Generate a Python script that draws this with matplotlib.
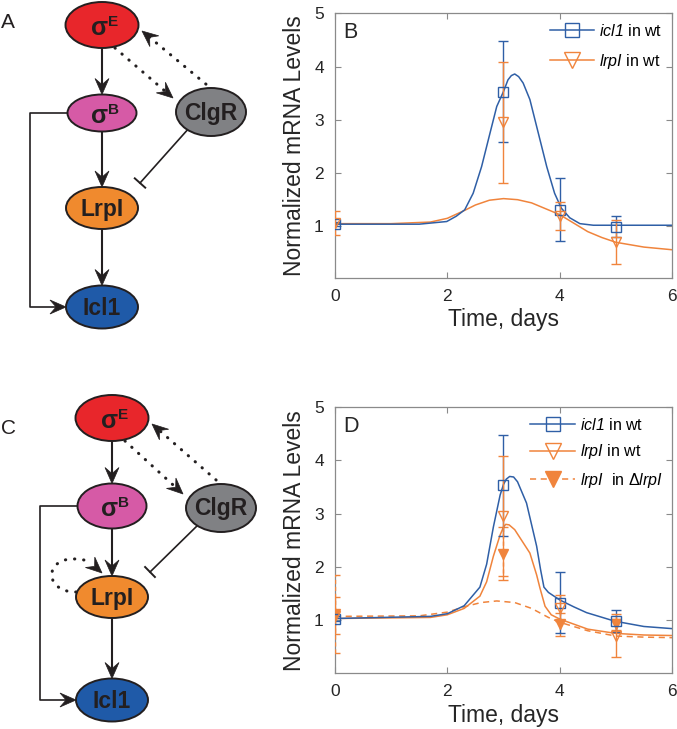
import numpy as np
import matplotlib
matplotlib.use('Agg')
import matplotlib.pyplot as plt
from matplotlib.patches import Ellipse, Polygon, PathPatch
from matplotlib.path import Path
from matplotlib.lines import Line2D

plt.rcParams['font.family'] = ['Liberation Sans', 'DejaVu Sans']
plt.rcParams['mathtext.fontset'] = 'custom'
plt.rcParams['mathtext.rm'] = 'Liberation Sans'
plt.rcParams['mathtext.sf'] = 'Liberation Sans:italic'

BLUE = '#2f5fa6'
ORANGE = '#f0843c'
INK = '#231f20'

# measured days
days = [0, 3, 4, 5]

# panel B data points
b_icl1 = [1.04, 3.53, 1.31, 0.99]
b_icl1_err = [0.04, 0.95, 0.59, 0.20]
b_lrpi = [1.06, 2.95, 1.20, 0.71]
b_lrpi_err = [0.23, 1.13, 0.26, 0.41]

# panel B model curves
b_icl1_fit_t = [0, 1.5, 1.99, 2.16, 2.31, 2.46, 2.61, 2.76, 2.88, 3.0, 3.08, 3.14, 3.2,
                3.27, 3.35, 3.47, 3.62, 3.77, 3.91, 4.03, 4.18, 4.36, 4.6, 6.0]
b_icl1_fit = [1.04, 1.04, 1.09, 1.19, 1.31, 1.62, 2.12, 2.75, 3.25, 3.53, 3.75, 3.83, 3.86,
              3.81, 3.69, 3.38, 2.75, 2.12, 1.62, 1.34, 1.16, 1.05, 1.02, 1.02]
b_lrpi_fit_t = [0, 1.0, 1.7, 2.0, 2.31, 2.5, 2.75, 3.0, 3.25, 3.5, 3.75, 4.0,
                4.25, 4.5, 4.75, 5.0, 5.5, 6.0]
b_lrpi_fit = [1.05, 1.05, 1.08, 1.15, 1.30, 1.40, 1.49, 1.52, 1.50, 1.44, 1.33, 1.22,
              1.06, 0.90, 0.79, 0.70, 0.61, 0.56]

# panel D data points
d_icl1 = [1.03, 3.53, 1.33, 0.98]
d_icl1_err = [0.05, 0.95, 0.57, 0.21]
d_lrpi_wt = [1.08, 2.95, 1.23, 0.71]
d_lrpi_wt_err = [0.35, 1.13, 0.25, 0.40]
d_lrpi_del = [1.12, 2.25, 0.92, 0.92]
d_lrpi_del_err = [0.73, 0.50, 0.22, 0.10]

# panel D model curves
d_icl1_fit_t = [0, 1.7, 2.0, 2.3, 2.58, 2.7, 2.82, 2.94, 3.0, 3.05, 3.11, 3.18, 3.25,
                3.41, 3.59, 3.66, 3.72, 3.8, 4.0, 4.25, 4.48, 4.98, 5.5, 6.0]
d_icl1_fit = [1.03, 1.07, 1.12, 1.27, 1.62, 2.05, 2.75, 3.35, 3.55, 3.65, 3.70, 3.69, 3.60,
              3.20, 2.39, 1.95, 1.62, 1.52, 1.38, 1.25, 1.14, 0.98, 0.88, 0.84]
d_lrpi_fit_t = [0, 1.7, 2.0, 2.3, 2.58, 2.7, 2.82, 2.94, 3.0, 3.04, 3.1, 3.2, 3.47, 3.59,
                3.65, 3.74, 3.85, 4.0, 4.5, 5.0, 5.5, 6.0]
d_lrpi_fit = [1.03, 1.05, 1.10, 1.22, 1.45, 1.72, 2.20, 2.60, 2.75, 2.80, 2.79, 2.70, 2.26,
              1.85, 1.60, 1.26, 1.10, 1.02, 0.83, 0.75, 0.72, 0.71]
d_del_fit_t = [0, 1.5, 2.0, 2.3, 2.6, 2.88, 3.2, 3.5, 3.8, 4.0, 4.5, 5.0, 5.5, 6.0]
d_del_fit = [1.07, 1.08, 1.15, 1.25, 1.33, 1.36, 1.33, 1.22, 1.05, 0.96, 0.80, 0.70,
             0.68, 0.67]

fig = plt.figure(figsize=(6.77, 7.29), dpi=100)

# ---------- network diagrams (pixel coordinates) ----------
bg = fig.add_axes([0, 0, 1, 1])
bg.set_xlim(0, 677)
bg.set_ylim(729, 0)
bg.axis('off')


def node(cx, cy, w, h, fc, label=None, sup=None):
    bg.add_patch(Ellipse((cx, cy), w, h, fc=fc, ec=INK, lw=1.4, zorder=3))
    if sup:
        bg.text(cx + 6, cy + 3, 'σ', ha='right', va='center', fontsize=18,
                fontweight='bold', color=INK, zorder=4)
        bg.text(cx + 6, cy - 3, sup, ha='left', va='center', fontsize=11,
                fontweight='bold', color=INK, zorder=4)
    else:
        bg.text(cx, cy + 1, label, ha='center', va='center', fontsize=16.5,
                fontweight='bold', color=INK, zorder=4)


def head(tip, d, L=16, W=7):
    d = np.asarray(d, float)
    d = d / np.hypot(*d)
    n = np.array([-d[1], d[0]])
    tip = np.asarray(tip, float)
    back = tip - L * d
    pts = [tip, back + W * n, tip - 0.62 * L * d, back - W * n]
    bg.add_patch(Polygon(pts, closed=True, fc=INK, ec=INK, lw=0.5, zorder=5))


def arrow(x0, y0, x1, y1, dotted=False, lw=1.5):
    d = np.array([x1 - x0, y1 - y0], float)
    d = d / np.hypot(*d)
    ex, ey = np.array([x1, y1]) - 9 * d
    if dotted:
        bg.plot([x0, ex], [y0, ey], color=INK, lw=2.2, ls=(0, (0.1, 2.9)),
                dash_capstyle='round', zorder=2)
    else:
        bg.plot([x0, ex], [y0, ey], color=INK, lw=lw, zorder=2)
    head((x1, y1), d)


def inhibit(x0, y0, x1, y1):
    d = np.array([x1 - x0, y1 - y0], float)
    d = d / np.hypot(*d)
    n = np.array([-d[1], d[0]])
    bg.plot([x0, x1], [y0, y1], color=INK, lw=1.2, zorder=2)
    bg.plot([x1 - 7 * n[0], x1 + 7 * n[0]], [y1 - 7 * n[1], y1 + 7 * n[1]],
            color=INK, lw=1.4, zorder=2)


def network(x, y, yB, yL, yI, yC, hB, loop=False):
    # x: column centre, y: sigma E centre
    node(x, y, 73, 46, '#e8262b', sup='E')
    node(x, yB, 69, hB, '#d65aa6', sup='B')
    node(x + 109, yC, 70, 48, '#808184', label='ClgR')
    node(x, yL, 72, 42, '#f08a2e', label='LrpI')
    node(x, yI, 72, 43, '#1f5aa8', label='Icl1')
    arrow(x, y + 23, x, yB - hB / 2)
    arrow(x, yB + hB / 2, x, yL - 21)
    arrow(x, yL + 21, x, yI - 21.5)
    bg.plot([x - 34, x - 72, x - 72, x - 45], [yB, yB, yI, yI], color=INK, lw=1.2, zorder=2)
    head((x - 36, yI), (1, 0))
    arrow(x + 13, y + 23, x + 71, yC - 14, dotted=True)
    arrow(x + 111, yC - 22, x + 40, y + 6, dotted=True)
    inhibit(x + 88, yC + 15, x + 38, yL - 25)
    if loop:
        p = Path([(x - 36, yL - 5), (x - 72, yL - 5), (x - 68, yL - 48), (x - 24, yL - 36)],
                 [Path.MOVETO, Path.CURVE4, Path.CURVE4, Path.CURVE4])
        bg.add_patch(PathPatch(p, fc='none', ec=INK, lw=2.2, ls=(0, (0.1, 2.9)),
                               capstyle='round', zorder=2))
        head((x - 10, yL - 24), (1.0, 0.9))


network(102, 25, 113, 208, 307, 112, 37)
network(112, 418, 506, 597, 700, 508, 45, loop=True)
bg.text(8, 22, 'A', fontsize=15, ha='center', va='center', color=INK)
bg.text(8, 428, 'C', fontsize=15, ha='center', va='center', color=INK)


# ---------- time courses ----------
def style(ax, letter, ylo):
    ax.set_xlim(0, 6)
    ax.set_ylim(ylo, 5)
    ax.set_xticks([0, 2, 4, 6])
    ax.set_yticks([1, 2, 3, 4, 5])
    ax.tick_params(direction='in', top=True, right=True, length=4, width=0.8,
                   color='#8a8a8a', labelcolor='#262626', labelsize=12.5, pad=8)
    for s in ax.spines.values():
        s.set_color('#8a8a8a')
        s.set_linewidth(0.9)
    ax.set_xlabel('Time, days', fontsize=16.5, color='#262626', labelpad=3)
    ax.set_ylabel('Normalized mRNA Levels', fontsize=16.5, color='#262626', labelpad=6)
    ax.text(0.025, 0.968, letter, transform=ax.transAxes, fontsize=15.5, va='top',
            ha='left', color='#262626')


def points(ax, y, err, color, marker, filled=False, dashed=False):
    eb = ax.errorbar(days, y, yerr=err, fmt=marker, color=color, ms=7.5, mew=1.0,
                     mfc=color if filled else 'none', capsize=3.5, elinewidth=1.0,
                     capthick=1.0, zorder=4)
    if dashed:
        eb[2][0].set_linestyle((0, (3, 2)))


axB = fig.add_axes([0.4948, 0.6187, 0.4978, 0.3631])
axB.plot(b_lrpi_fit_t, b_lrpi_fit, color=ORANGE, lw=1.1)
axB.plot(b_icl1_fit_t, b_icl1_fit, color=BLUE, lw=1.1)
points(axB, b_icl1, b_icl1_err, BLUE, 's')
points(axB, b_lrpi, b_lrpi_err, ORANGE, 'v')
style(axB, 'B', 0.03)
hB = [Line2D([], [], color=BLUE, marker='s', mfc='none', ms=10, lw=1.1),
      Line2D([], [], color=ORANGE, marker='v', mfc='none', ms=12, lw=1.1)]
axB.legend(hB, [r'$\mathsf{icl1}$ in wt', r'$\mathsf{lrpI}$ in wt'], loc='upper right',
           frameon=False, fontsize=11.5, handlelength=2.8, handletextpad=0.3,
           labelspacing=0.8, borderaxespad=0.2)

axD = fig.add_axes([0.4948, 0.0764, 0.4978, 0.3649])
axD.plot(d_del_fit_t, d_del_fit, color=ORANGE, lw=1.1, ls=(0, (4, 3)))
axD.plot(d_lrpi_fit_t, d_lrpi_fit, color=ORANGE, lw=1.1)
axD.plot(d_icl1_fit_t, d_icl1_fit, color=BLUE, lw=1.1)
points(axD, d_lrpi_del, d_lrpi_del_err, ORANGE, 'v', filled=True, dashed=True)
points(axD, d_icl1, d_icl1_err, BLUE, 's')
points(axD, d_lrpi_wt, d_lrpi_wt_err, ORANGE, 'v')
style(axD, 'D', 0.0)
hD = [Line2D([], [], color=BLUE, marker='s', mfc='none', ms=10, lw=1.1),
      Line2D([], [], color=ORANGE, marker='v', mfc='none', ms=12, lw=1.1),
      Line2D([], [], color=ORANGE, marker='v', mfc=ORANGE, ms=12, lw=1.1, ls=(0, (4, 3)))]
axD.legend(hD, [r'$\mathsf{icl1}$ in wt', r'$\mathsf{lrpI}$ in wt',
                r'$\mathsf{lrpI}$  in $\Delta\mathsf{lrpI}$'], loc='upper right',
           frameon=False, fontsize=11.5, handlelength=2.8, handletextpad=0.3,
           labelspacing=0.6, borderaxespad=0.2)

fig.savefig('out.png', dpi=100)
